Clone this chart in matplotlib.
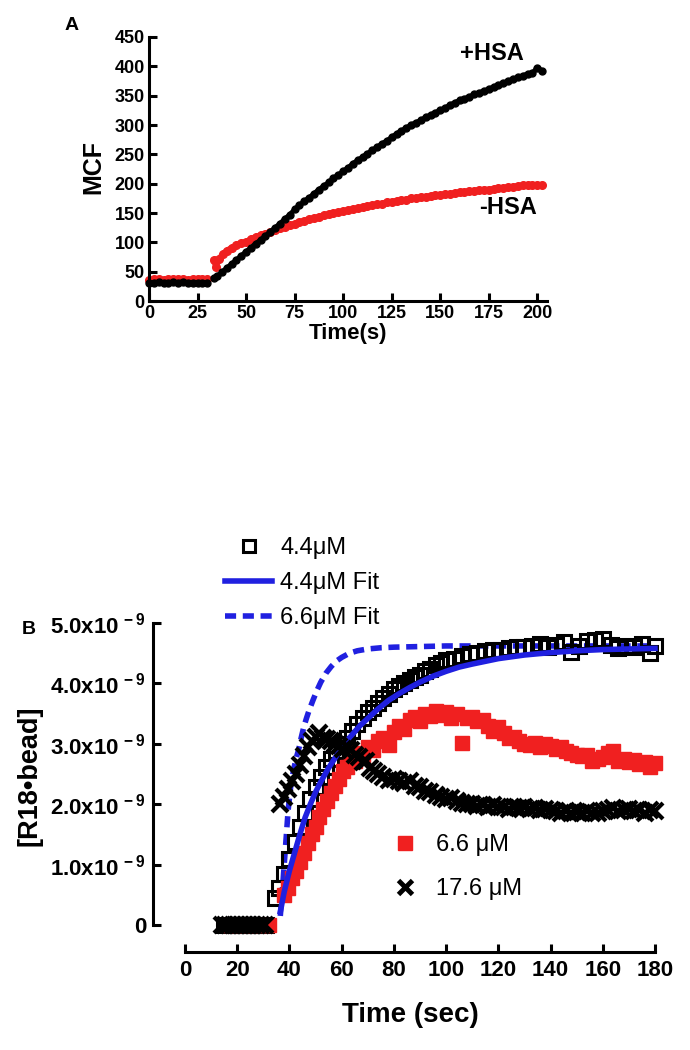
import matplotlib.pyplot as plt
from matplotlib.lines import Line2D
from matplotlib.ticker import FuncFormatter

plt.rcParams['font.family'] = ['Liberation Sans', 'DejaVu Sans']
plt.rcParams['mathtext.fontset'] = 'custom'
plt.rcParams['mathtext.bf'] = 'Liberation Sans:bold'
plt.rcParams['mathtext.rm'] = 'Liberation Sans:bold'

RED = '#f02020'
BLUE = '#2020e0'

# ---- panel A : MCF vs time ----
t_base = [0, 2.5, 5, 7.5, 10, 12.5, 15, 17.5, 20, 22.5, 25, 27.5, 30]
plus_base = [30, 31, 32, 31, 30, 32, 31, 33, 31, 30, 31, 31, 30]
minus_base = [36, 38, 37, 36, 38, 37, 37, 38, 36, 37, 38, 37, 37]

t_plus = [33.5, 35, 37.5, 40, 42.5, 45, 47.5, 50, 52.5, 55, 57.5, 60, 62.5, 65, 67.5,
          70, 72.5, 75, 77.5, 80, 82.5, 85, 87.5, 90, 92.5, 95, 97.5, 100, 102.5,
          105, 107.5, 110, 112.5, 115, 117.5, 120, 122.5, 125, 127.5, 130, 132.5,
          135, 137.5, 140, 142.5, 145, 147.5, 150, 152.5, 155, 157.5, 160, 162.5,
          165, 167.5, 170, 172.5, 175, 177.5, 180, 182.5, 185, 187.5, 190, 192.5,
          195, 197.5, 200, 202.5]
plus_hsa = [39, 42, 49, 56, 63, 70, 77, 84, 91, 98, 104, 111, 118, 125, 132,
            140, 147, 156, 163, 170, 176, 183, 190, 196, 202, 209, 215, 221, 227,
            234, 240, 245, 251, 257, 262, 268, 273, 279, 285, 290, 295,
            300, 304, 308, 313, 317, 321, 325, 329, 334, 338, 342, 345,
            348, 352, 355, 358, 361, 365, 368, 371, 375, 378, 381, 384,
            387, 388, 398, 392]

t_minus = [33.5, 34.5, 36, 38, 40, 42.5, 45, 47.5, 50, 52.5, 55, 57.5, 60, 62.5, 65,
           67.5, 70, 72.5, 75, 77.5, 80, 82.5, 85, 87.5, 90, 92.5, 95, 97.5, 100,
           102.5, 105, 107.5, 110, 112.5, 115, 117.5, 120, 122.5, 125, 127.5, 130,
           132.5, 135, 137.5, 140, 142.5, 145, 147.5, 150, 152.5, 155, 157.5, 160,
           162.5, 165, 167.5, 170, 172.5, 175, 177.5, 180, 182.5, 185, 187.5, 190,
           192.5, 195, 197.5, 200, 202.5]
minus_hsa = [70, 58, 72, 80, 86, 91, 95, 99, 101, 106, 109, 112, 115, 118, 121,
             124, 126, 129, 132, 134, 137, 139, 141, 144, 146, 148, 150, 151, 153,
             155, 157, 158, 160, 162, 163, 165, 166, 168, 169, 171, 172,
             173, 175, 176, 177, 178, 179, 180, 181, 182, 183, 184, 185,
             186, 187, 188, 189, 190, 190, 191, 192, 193, 194, 195, 196,
             197, 198, 197, 198, 198]

# ---- panel B : [R18*bead] (x1e-9) vs time ----
t_sq = [15, 17, 19, 21, 23, 25, 27, 29, 31, 34.5, 36, 38, 40, 42, 44, 46, 48, 50, 52,
        54, 56, 58, 60, 62, 64, 66, 68, 70, 72, 74, 76, 78, 80, 82, 84, 86, 88, 90,
        92, 94, 96, 98, 100, 103, 106, 109, 112, 115, 118, 121, 124, 127, 130, 133,
        136, 139, 142, 145, 148, 151, 154, 157, 160, 163, 166, 169, 172, 175, 178, 180]
sq_44 = [0, 0, 0, 0, 0, 0, 0, 0, 0, 0.45, 0.62, 0.85, 1.10, 1.38, 1.62, 1.86, 2.08,
         2.28, 2.45, 2.62, 2.75, 2.88, 3.00, 3.10, 3.22, 3.32, 3.42, 3.52, 3.60, 3.68,
         3.76, 3.83, 3.90, 3.96, 4.00, 4.05, 4.10, 4.14, 4.20, 4.24, 4.30, 4.33, 4.38,
         4.40, 4.45, 4.48, 4.50, 4.53, 4.55, 4.56, 4.58, 4.60, 4.61, 4.62, 4.66, 4.60,
         4.64, 4.68, 4.52, 4.62, 4.70, 4.72, 4.74, 4.64, 4.58, 4.62, 4.60, 4.66, 4.50,
         4.62]

t_fit44 = [36.5, 38, 40, 42, 44, 46, 48, 50, 52, 55, 58, 61, 64, 67, 70, 74, 78, 82,
           86, 90, 95, 100, 105, 110, 120, 130, 140, 150, 160, 170, 180]
fit_44 = [0.22, 0.55, 0.90, 1.20, 1.50, 1.78, 2.00, 2.20, 2.37, 2.60, 2.80, 3.00,
          3.15, 3.30, 3.42, 3.58, 3.72, 3.83, 3.93, 4.02, 4.12, 4.20, 4.27, 4.32,
          4.41, 4.47, 4.51, 4.54, 4.56, 4.57, 4.58]

t_fit66 = [36.5, 37.5, 38.5, 39.5, 40.5, 41.5, 42.5, 43.5, 44.5, 45.5, 46.5, 47.5,
           49, 50.5, 52, 54, 56, 58, 60, 63, 66, 70, 75, 80, 90, 100, 180]
fit_66 = [0.15, 0.70, 1.30, 1.90, 2.30, 2.55, 2.75, 2.90, 3.10, 3.28, 3.42, 3.55,
          3.72, 3.88, 4.02, 4.17, 4.28, 4.37, 4.43, 4.50, 4.54, 4.57, 4.59, 4.60,
          4.61, 4.62, 4.62]

t_66 = [17, 20, 23, 26, 29, 32, 38, 39.5, 41, 42.5, 44, 45.5, 47, 48.5, 50, 51.5, 53,
        54.5, 56, 57.5, 59, 60.5, 62, 63.5, 65, 66.5, 68, 70, 72, 74, 76, 78, 80, 82,
        84, 86, 88, 90, 92, 94, 96, 98, 100, 102, 104, 106, 108, 110, 112, 114, 116,
        118, 120, 122, 124, 126, 128, 130, 132, 134, 136, 138, 140, 142, 144, 146,
        148, 150, 152, 154, 156, 158, 160, 162, 164, 166, 168, 170, 172, 174, 176,
        178, 180]
val_66 = [0, 0, 0, 0, 0, 0, 0.50, 0.62, 0.78, 0.90, 1.05, 1.20, 1.35, 1.50, 1.62,
          1.78, 1.92, 2.05, 2.18, 2.30, 2.42, 2.55, 2.62, 2.70, 2.72, 2.85, 2.80,
          2.95, 2.90, 3.05, 3.10, 2.98, 3.20, 3.30, 3.25, 3.40, 3.45, 3.38, 3.50,
          3.46, 3.55, 3.48, 3.52, 3.42, 3.50, 3.02, 3.42, 3.45, 3.38, 3.40, 3.30,
          3.22, 3.28, 3.18, 3.10, 3.12, 3.05, 3.00, 2.98, 3.02, 2.95, 3.00, 2.96,
          2.92, 2.95, 2.88, 2.85, 2.82, 2.80, 2.82, 2.72, 2.75, 2.78, 2.85, 2.88,
          2.72, 2.75, 2.70, 2.74, 2.66, 2.70, 2.62, 2.68]

t_176 = [14, 15.5, 17, 18.5, 20, 21.5, 23, 24.5, 26, 27.5, 29, 30.5, 36.5, 38, 39.5,
         41, 42.5, 44, 45.5, 47, 48.5, 50, 51.5, 53, 54.5, 56, 57.5, 59, 60.5, 62,
         63.5, 65, 66.5, 68, 69.5, 71, 72.5, 74, 76, 78, 80, 82, 84, 86, 88, 90, 92,
         94, 96, 98, 100, 102, 104, 106, 108, 110, 112, 114, 116, 118, 120, 122, 124,
         126, 128, 130, 132, 134, 136, 138, 140, 142, 144, 146, 148, 150, 152, 154,
         156, 158, 160, 162, 164, 166, 168, 170, 172, 174, 176, 178, 180]
val_176 = [0, 0, 0, 0, 0, 0, 0, 0, 0, 0, 0, 0, 2.00, 2.12, 2.25, 2.38, 2.50, 2.65,
           2.80, 2.95, 3.05, 3.12, 3.18, 3.10, 3.08, 3.05, 3.00, 2.96, 2.92, 2.95,
           2.90, 2.82, 2.78, 2.70, 2.72, 2.60, 2.55, 2.50, 2.45, 2.40, 2.42, 2.38,
           2.35, 2.38, 2.30, 2.28, 2.22, 2.20, 2.15, 2.12, 2.08, 2.10, 2.05, 2.02,
           2.00, 2.00, 1.97, 1.99, 1.96, 1.98, 1.95, 1.96, 1.92, 1.95, 1.93, 1.96,
           1.92, 1.94, 1.90, 1.92, 1.90, 1.88, 1.86, 1.89, 1.86, 1.87, 1.85, 1.88,
           1.86, 1.85, 1.88, 1.90, 1.93, 1.88, 1.90, 1.92, 1.88, 1.90, 1.86, 1.90,
           1.88]


def style_axes(ax, lw=2.2):
    for s in ['top', 'right']:
        ax.spines[s].set_visible(False)
    for s in ['left', 'bottom']:
        ax.spines[s].set_linewidth(lw)
    ax.tick_params(direction='in', width=lw, length=5.5)


fig = plt.figure(figsize=(6.9, 10.5), dpi=100)

# panel A
axA = fig.add_axes([149/690, 1-301/1050, 398/690, 264/1050])
axA.plot(t_base, minus_base, '-o', color=RED, ms=5.5, lw=3.5, clip_on=False)
axA.plot(t_minus, minus_hsa, '-o', color=RED, ms=5.5, lw=4, clip_on=False)
axA.plot(t_base, plus_base, '-o', color='black', ms=5, lw=3.5, clip_on=False)
axA.plot(t_plus, plus_hsa, '-o', color='black', ms=5, lw=3.5, clip_on=False)
axA.set_xlim(0, 205)
axA.set_ylim(0, 450)
axA.set_xticks(range(0, 201, 25))
axA.set_yticks(range(0, 451, 50))
style_axes(axA)
axA.tick_params(axis='y', pad=3, labelsize=13)
axA.tick_params(axis='x', pad=3, labelsize=13)
for lab in axA.get_xticklabels() + axA.get_yticklabels():
    lab.set_fontweight('bold')
axA.text(193, 422, '+HSA', fontsize=17, fontweight='bold', ha='right', va='center')
axA.text(200, 160, '-HSA', fontsize=17, fontweight='bold', ha='right', va='center')
fig.text(72/690, 1-25/1050, 'A', fontsize=14, fontweight='bold', ha='center', va='center')
fig.text(93/690, 1-167/1050, 'MCF', fontsize=18, fontweight='bold', rotation=90,
         ha='center', va='center')
fig.text(348/690, 1-333/1050, 'Time(s)', fontsize=16, fontweight='bold',
         ha='center', va='center')

# panel B
axB = fig.add_axes([185/690, 1-925/1050, 470/690, 302/1050])
axB.plot(t_fit66, fit_66, '--', color=BLUE, lw=4, dashes=(2, 1.2), clip_on=False)
axB.plot(t_sq, sq_44, 's', mfc='none', mec='black', mew=2.2, ms=9.5, clip_on=False)
axB.plot(t_66, val_66, 's', color=RED, ms=10.5, clip_on=False)
axB.plot(t_fit44, fit_44, '-', color=BLUE, lw=4, clip_on=False)
axB.plot(t_176, val_176, 'x', color='black', mew=3, ms=11, clip_on=False)
axB.set_xlim(0, 180)
axB.set_ylim(0, 5)
axB.set_xticks(range(0, 181, 20))
axB.set_yticks([0, 1, 2, 3, 4, 5])
style_axes(axB)
axB.spines['left'].set_position(('outward', 23))
axB.spines['bottom'].set_position(('outward', 19.5))


def sci_fmt(v, pos):
    if v == 0:
        return '0'
    return r'$\mathbf{%.1fx10^{\,-9}}$' % v


axB.yaxis.set_major_formatter(FuncFormatter(sci_fmt))
axB.tick_params(axis='y', pad=5, labelsize=16)
axB.tick_params(axis='x', pad=6, labelsize=16)
for lab in axB.get_xticklabels() + axB.get_yticklabels():
    lab.set_fontweight('bold')

fig.text(29/690, 1-630/1050, 'B', fontsize=14, fontweight='bold', ha='center', va='center')
fig.text(30/690, 1-776/1050, '[R18\u2022bead]', fontsize=19.5, fontweight='bold',
         rotation=90, ha='center', va='center')
fig.text(410/690, 1-1015/1050, 'Time (sec)', fontsize=20, fontweight='bold',
         ha='center', va='center')

h1 = [Line2D([], [], marker='s', mfc='none', mec='black', mew=2.2, ms=9, ls='none'),
      Line2D([], [], color=BLUE, lw=4),
      Line2D([], [], color=BLUE, lw=4, ls='--', dashes=(2, 1.2))]
fig.legend(h1, ['4.4\u03bcM', '4.4\u03bcM Fit', '6.6\u03bcM Fit'], loc='upper left',
           bbox_to_anchor=(225/690, 1-537/1050), frameon=False, fontsize=17,
           handlelength=2.0, handletextpad=0.35, labelspacing=0.55,
           borderpad=0, borderaxespad=0)
h2 = [Line2D([], [], marker='s', color=RED, ms=10, ls='none'),
      Line2D([], [], marker='x', color='black', mew=3.5, ms=10, ls='none')]
fig.legend(h2, ['6.6 \u03bcM', '17.6 \u03bcM'], loc='upper left',
           bbox_to_anchor=(393/690, 1-834/1050), frameon=False, fontsize=17,
           handlelength=1.0, handletextpad=0.8, labelspacing=0.95,
           borderpad=0, borderaxespad=0)

fig.savefig('out.png', dpi=100)
